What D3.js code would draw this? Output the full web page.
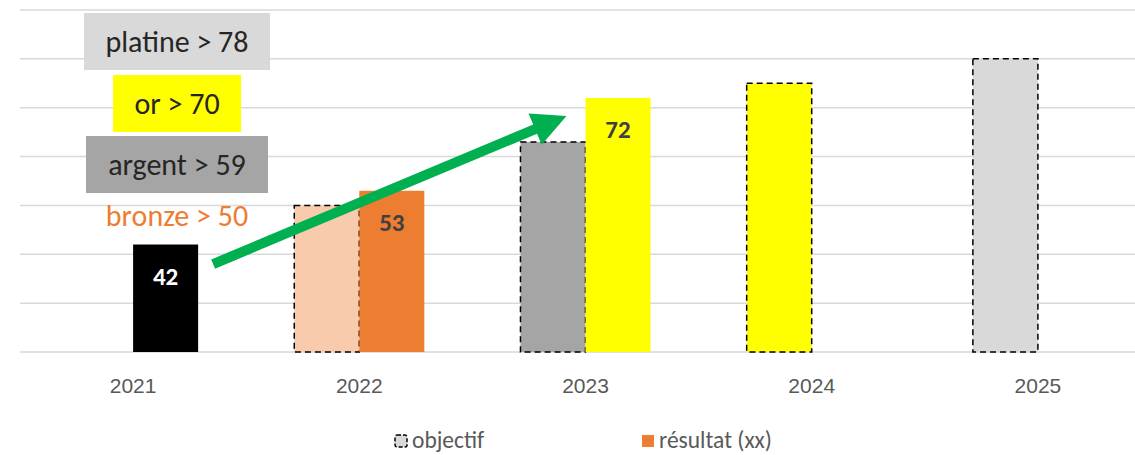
<!DOCTYPE html>
<html>
<head>
<meta charset="utf-8">
<script src="https://cdn.jsdelivr.net/npm/d3@7"></script>
<style>
  html, body { margin: 0; padding: 0; background: #fff; }
  svg { display: block; font-family: Carlito, Lato, "Open Sans", sans-serif; }
</style>
</head>
<body>
<div id="chart"></div>
<script>
// data
const years = ["2021", "2022", "2023", "2024", "2025"];
const objectif = [null, 50, 63, 75, 80];
const resultat = [42, 53, 72, null, null];
const objectifColors = [null, "#F8CBAD", "#A5A5A5", "#FFFF00", "#D9D9D9"];
const resultatColors = ["#000000", "#ED7D31", "#FFFF00", null, null];
const yTicks = [20, 30, 40, 50, 60, 70, 80, 90];

// medal thresholds shown top left
const tierNames = ["platine", "or", "argent", "bronze"];
const tierLimits = [78, 70, 59, 50];
const tierFills = ["#D9D9D9", "#FFFF00", "#A5A5A5", "none"];
const tierText = ["#262626", "#262626", "#262626", "#ED7D31"];

const legendNames = ["objectif", "résultat (xx)"];

const width = 1135;
const height = 455;

const svg = d3.select("#chart")
    .append("svg")
    .attr("width", width)
    .attr("height", height);

const x = d3.scaleBand()
    .domain(years)
    .range([20, 1151])
    .paddingInner(0.425)
    .paddingOuter(0.2125);

const x1 = d3.scaleBand()
    .domain(["objectif", "resultat"])
    .range([0, x.bandwidth()]);

const y = d3.scaleLinear()
    .domain([20, 90])
    .range([352, 10]);

// gridlines
svg.append("g")
    .selectAll("line")
    .data(yTicks)
    .enter()
    .append("line")
    .attr("x1", 20)
    .attr("x2", width)
    .attr("y1", d => y(d))
    .attr("y2", d => y(d))
    .attr("stroke", "#D9D9D9")
    .attr("stroke-width", 1.5);

// x axis labels
const xAxis = svg.append("g")
    .attr("transform", `translate(0, ${y(20)})`)
    .call(d3.axisBottom(x).tickSize(0).tickPadding(26));
xAxis.select(".domain").remove();
xAxis.selectAll("text")
    .attr("fill", "#595959")
    .style("font-size", "21px");

const rows = years.map((yr, i) => ({
    year: yr,
    bars: [
        { key: "objectif", value: objectif[i], color: objectifColors[i] },
        { key: "resultat", value: resultat[i], color: resultatColors[i] }
    ].filter(b => b.value !== null)
}));

const groups = svg.append("g")
    .selectAll("g")
    .data(rows)
    .enter()
    .append("g")
    .attr("transform", d => `translate(${x(d.year)}, 0)`);

groups.selectAll("rect")
    .data(d => d.bars)
    .enter()
    .append("rect")
    .attr("x", d => x1(d.key))
    .attr("width", x1.bandwidth())
    .attr("y", d => y(d.value))
    .attr("height", d => y(20) - y(d.value))
    .attr("fill", d => d.color)
    .attr("stroke", d => d.key === "objectif" ? "#000" : "none")
    .attr("stroke-width", 1.5)
    .attr("stroke-dasharray", "6,4");

// value labels on results
groups.selectAll("text.val")
    .data(d => d.bars.filter(b => b.key === "resultat"))
    .enter()
    .append("text")
    .attr("class", "val")
    .attr("x", d => x1(d.key) + x1.bandwidth() / 2)
    .attr("y", d => y(d.value) + 40)
    .attr("text-anchor", "middle")
    .attr("fill", d => d.color === "#000000" ? "#fff" : "#404040")
    .style("font-size", "25px")
    .style("font-weight", "bold")
    .text(d => d.value);

// tier boxes
const boxW = [186, 128, 182, 0];
const boxTop = [13, 75, 136, 187];
const tiers = svg.append("g")
    .selectAll("g")
    .data(tierNames.map((n, i) => ({ name: n, limit: tierLimits[i], fill: tierFills[i], color: tierText[i], w: boxW[i], top: boxTop[i] })))
    .enter()
    .append("g");

tiers.append("rect")
    .attr("x", d => 177 - d.w / 2)
    .attr("y", d => d.top)
    .attr("width", d => d.w)
    .attr("height", 57)
    .attr("fill", d => d.fill);

tiers.append("text")
    .attr("x", 177)
    .attr("y", d => d.top + 39)
    .attr("text-anchor", "middle")
    .attr("fill", d => d.color)
    .style("font-size", "30px")
    .text(d => `${d.name} > ${d.limit}`);

// green arrow, from after the 2021 bar up to the 2023 result
const x0a = x("2021") + x.bandwidth() + 15;
const y0a = y(38);
const x1a = x("2023") + x1("resultat") - 19;
const y1a = y(68.3);
const ang = Math.atan2(y1a - y0a, x1a - x0a);
const headLen = 34;
const headHalf = 17;
const bx = x1a - headLen * Math.cos(ang);
const by = y1a - headLen * Math.sin(ang);

svg.append("line")
    .attr("x1", x0a)
    .attr("y1", y0a)
    .attr("x2", bx + 2 * Math.cos(ang))
    .attr("y2", by + 2 * Math.sin(ang))
    .attr("stroke", "#00B050")
    .attr("stroke-width", 10);

svg.append("polygon")
    .attr("points", [
        [x1a, y1a],
        [bx + headHalf * Math.sin(ang), by - headHalf * Math.cos(ang)],
        [bx - headHalf * Math.sin(ang), by + headHalf * Math.cos(ang)]
    ].map(p => p.join(",")).join(" "))
    .attr("fill", "#00B050");

// legend
const legend = svg.append("g");
const legX = [395, 642];

legend.selectAll("rect")
    .data(legendNames)
    .enter()
    .append("rect")
    .attr("x", (d, i) => legX[i])
    .attr("y", 435)
    .attr("width", 12)
    .attr("height", 12)
    .attr("rx", (d, i) => i === 0 ? 2 : 0)
    .attr("fill", (d, i) => i === 0 ? "#D9D9D9" : "#ED7D31")
    .attr("stroke", (d, i) => i === 0 ? "#000" : "none")
    .attr("stroke-width", 1.5)
    .attr("stroke-dasharray", "4,2");

legend.selectAll("text")
    .data(legendNames)
    .enter()
    .append("text")
    .attr("x", (d, i) => legX[i] + 17)
    .attr("y", 448)
    .attr("fill", "#595959")
    .style("font-size", "23.5px")
    .text(d => d);
</script>
</body>
</html>
